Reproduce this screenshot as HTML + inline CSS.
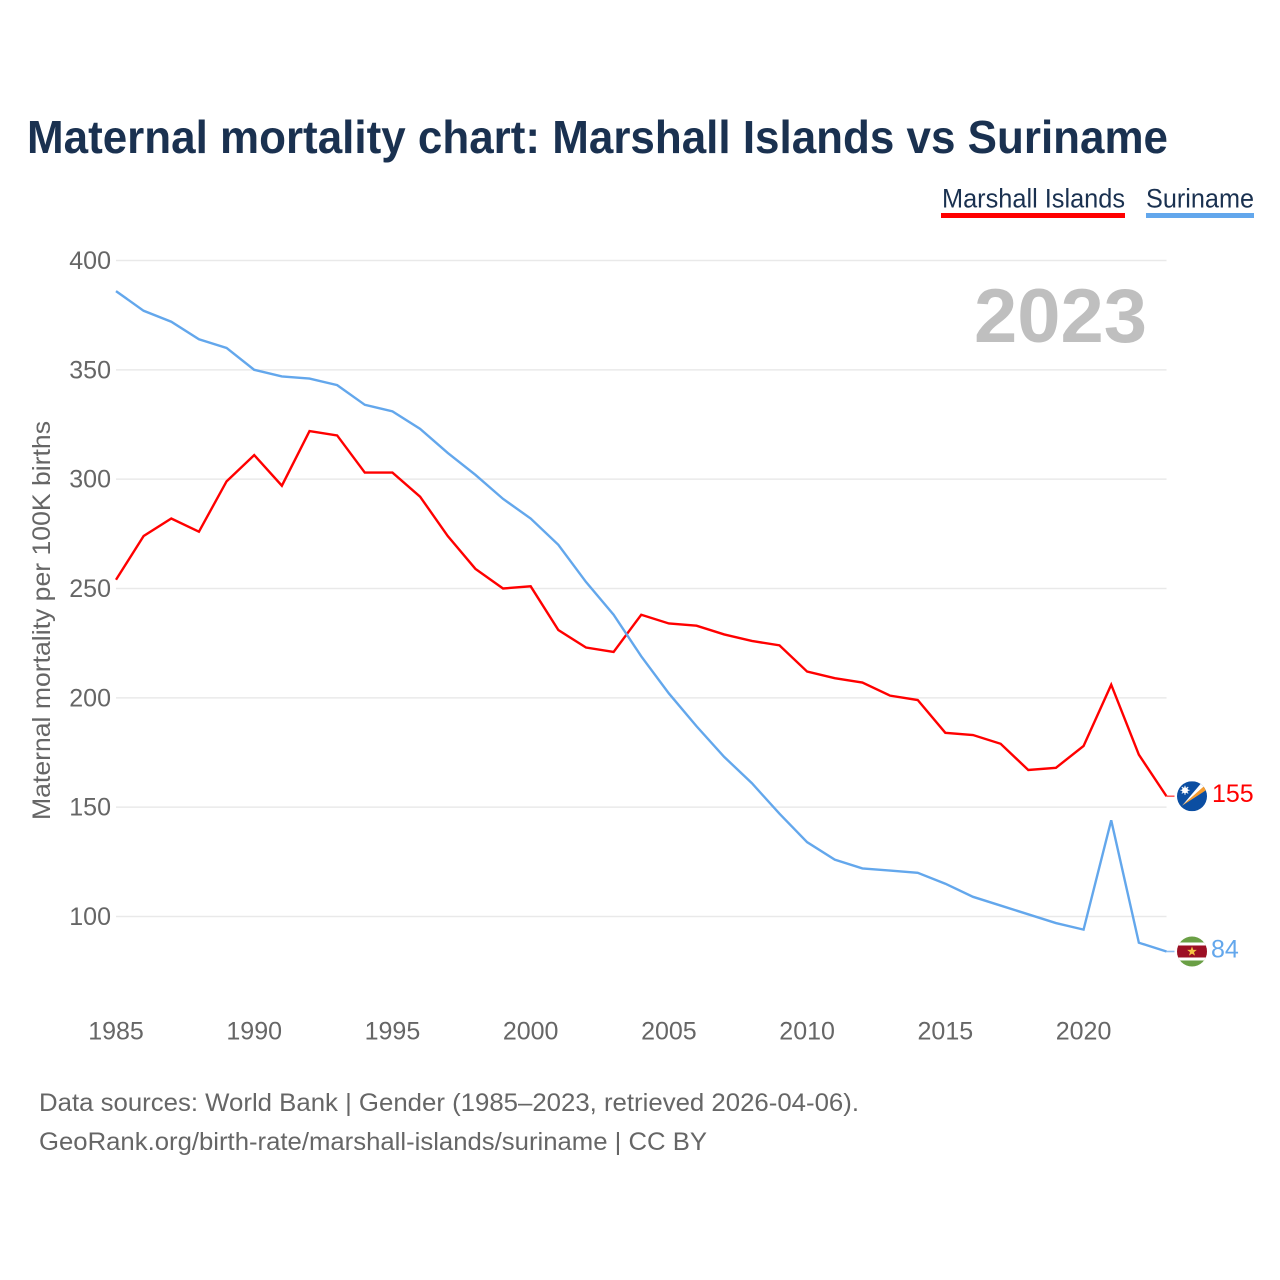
<!DOCTYPE html>
<html lang="en">
<head>
<meta charset="utf-8">
<title>Maternal mortality chart: Marshall Islands vs Suriname</title>
<style>
html,body{margin:0;padding:0;background:#fff;}
svg{display:block;font-family:"Liberation Sans",sans-serif;}
</style>
</head>
<body>
<svg id="chart" width="1280" height="1280" viewBox="0 0 1280 1280" xmlns="http://www.w3.org/2000/svg">
  <defs>
    <clipPath id="flag-clip"><circle cx="0" cy="0" r="15"></circle></clipPath>
  </defs>
  <rect x="0" y="0" width="1280" height="1280" fill="#ffffff"></rect>
  <text x="27" y="153" font-size="46" font-weight="700" fill="#1a3150" textLength="1141" lengthAdjust="spacingAndGlyphs">Maternal mortality chart: Marshall Islands vs Suriname</text>

  <g>
    <g>
      <text x="942" y="207.5" font-size="27" fill="#1a3150" textLength="183" lengthAdjust="spacingAndGlyphs">Marshall Islands</text>
      <rect x="941" y="213" width="184" height="5" fill="#ff0000"></rect>
    </g>
    <g>
      <text x="1146" y="207.5" font-size="27" fill="#1a3150" textLength="108" lengthAdjust="spacingAndGlyphs">Suriname</text>
      <rect x="1146" y="213" width="108" height="5" fill="#63a7ec"></rect>
    </g>
  </g>

  <g id="grid"></g>
  <g id="y-ticks"></g>
  <g id="x-ticks"></g>

  <text x="974" y="342" font-size="76" font-weight="700" fill="#bfbfbf" textLength="173" lengthAdjust="spacingAndGlyphs">2023</text>

  <text transform="translate(50,820) rotate(-90)" x="0" y="0" font-size="25" fill="#666666" textLength="399" lengthAdjust="spacingAndGlyphs">Maternal mortality per 100K births</text>

  <g id="series"></g>

  <g id="flag-marshall">
    <g clip-path="url(#flag-clip)">
      <rect x="-15" y="-15" width="30" height="30" fill="#0b4ea2"></rect>
      <polygon points="-10,9.5 10,-14 13.5,-11" fill="#ffffff"></polygon>
      <polygon points="-10,9.5 12,-10 14,-6" fill="#f59b2d"></polygon>
      <circle cx="-7" cy="-6" r="3" fill="#ffffff"></circle>
      <g stroke="#ffffff" stroke-width="1">
        <line x1="-7" y1="-10.5" x2="-7" y2="-1.5"></line>
        <line x1="-11.5" y1="-6" x2="-2.5" y2="-6"></line>
        <line x1="-10.2" y1="-9.2" x2="-3.8" y2="-2.8"></line>
        <line x1="-3.8" y1="-9.2" x2="-10.2" y2="-2.8"></line>
      </g>
    </g>
  </g>
  <g id="flag-suriname">
    <g clip-path="url(#flag-clip)">
      <rect x="-15" y="-15" width="30" height="30" fill="#6a9f45"></rect>
      <rect x="-15" y="-9" width="30" height="18" fill="#ffffff"></rect>
      <rect x="-15" y="-6" width="30" height="12" fill="#9c0f24"></rect>
      <polygon points="0,-5 1.3,-1.6 4.8,-1.6 2,0.6 3,4.2 0,2.1 -3,4.2 -2,0.6 -4.8,-1.6 -1.3,-1.6" fill="#f6c445"></polygon>
    </g>
  </g>
  <text id="label-marshall" x="1212" font-size="25" fill="#ff0000"></text>
  <text id="label-suriname" x="1211" font-size="25" fill="#63a7ec"></text>

  <g>
    <text x="39" y="1111" font-size="25" fill="#666666" textLength="820" lengthAdjust="spacingAndGlyphs">Data sources: World Bank | Gender (1985–2023, retrieved 2026-04-06).</text>
    <text x="39" y="1150" font-size="25" fill="#666666" textLength="668" lengthAdjust="spacingAndGlyphs">GeoRank.org/birth-rate/marshall-islands/suriname | CC BY</text>
  </g>
</svg>
<script>
const years = [1985,1986,1987,1988,1989,1990,1991,1992,1993,1994,1995,1996,1997,1998,1999,2000,2001,2002,2003,2004,2005,2006,2007,2008,2009,2010,2011,2012,2013,2014,2015,2016,2017,2018,2019,2020,2021,2022,2023];
const marshallIslands = [254,274,282,276,299,311,297,322,320,303,303,292,274,259,250,251,231,223,221,238,234,233,229,226,224,212,209,207,201,199,184,183,179,167,168,178,206,174,155];
const suriname = [386,377,372,364,360,350,347,346,343,334,331,323,312,302,291,282,270,253,238,219,202,187,173,161,147,134,126,122,121,120,115,109,105,101,97,94,144,88,84];
const yTicks = [100,150,200,250,300,350,400];
const xTicks = [1985,1990,1995,2000,2005,2010,2015,2020];

const NS = 'http://www.w3.org/2000/svg';
const xScale = function (year) { return 116 + (year - 1985) * (1166.5 - 116) / 38; };
const yScale = function (value) { return 916.5 - (value - 100) * (916.5 - 260.5) / 300; };

const grid = document.getElementById('grid');
const yGroup = document.getElementById('y-ticks');
yTicks.forEach(function (tick) {
  const line = document.createElementNS(NS, 'line');
  
  
  line.setAttribute('x1', xScale(1985));
  line.setAttribute('x2', xScale(2023));
  line.setAttribute('y1', yScale(tick));
  line.setAttribute('y2', yScale(tick));
  line.setAttribute('stroke', '#e9e9e9');
  line.setAttribute('stroke-width', '1.5');
  grid.appendChild(line);

  const label = document.createElementNS(NS, 'text');
  
  
  label.setAttribute('x', 111);
  label.setAttribute('y', yScale(tick) + 8.5);
  label.setAttribute('text-anchor', 'end');
  label.setAttribute('font-size', '25');
  label.setAttribute('fill', '#666666');
  label.textContent = tick;
  yGroup.appendChild(label);
});

const xGroup = document.getElementById('x-ticks');
xTicks.forEach(function (tick) {
  const label = document.createElementNS(NS, 'text');
  
  
  label.setAttribute('x', xScale(tick));
  label.setAttribute('y', 1039.5);
  label.setAttribute('text-anchor', 'middle');
  label.setAttribute('font-size', '25');
  label.setAttribute('fill', '#666666');
  label.textContent = tick;
  xGroup.appendChild(label);
});

function buildPoints(values) {
  const pts = values.map(function (v, i) { return xScale(years[i]) + ',' + yScale(v); });
  return pts.join(' ');
}

function buildStub(values) {
  const lastX = xScale(years[years.length - 1]);
  const lastY = yScale(values[values.length - 1]);
  return 'M' + lastX + ' ' + lastY + 'H' + (lastX + 8);
}

const seriesGroup = document.getElementById('series');

const marshallLine = document.createElementNS(NS, 'polyline');


marshallLine.setAttribute('points', buildPoints(marshallIslands));
marshallLine.setAttribute('fill', 'none');
marshallLine.setAttribute('stroke', '#ff0000');
marshallLine.setAttribute('stroke-width', '2.4');
seriesGroup.appendChild(marshallLine);

const marshallStub = document.createElementNS(NS, 'path');


marshallStub.setAttribute('d', buildStub(marshallIslands));
marshallStub.setAttribute('fill', 'none');
marshallStub.setAttribute('stroke', '#ff5a5a');
marshallStub.setAttribute('stroke-width', '1.6');
seriesGroup.appendChild(marshallStub);

const surinameLine = document.createElementNS(NS, 'polyline');


surinameLine.setAttribute('points', buildPoints(suriname));
surinameLine.setAttribute('fill', 'none');
surinameLine.setAttribute('stroke', '#63a7ec');
surinameLine.setAttribute('stroke-width', '2.4');
seriesGroup.appendChild(surinameLine);

const surinameStub = document.createElementNS(NS, 'path');


surinameStub.setAttribute('d', buildStub(suriname));
surinameStub.setAttribute('fill', 'none');
surinameStub.setAttribute('stroke', '#8cbdf0');
surinameStub.setAttribute('stroke-width', '1.6');
seriesGroup.appendChild(surinameStub);

const lastMarshall = marshallIslands[marshallIslands.length - 1];
const lastSuriname = suriname[suriname.length - 1];
document.getElementById('flag-marshall').setAttribute('transform', 'translate(1192,' + yScale(lastMarshall) + ')');
document.getElementById('flag-suriname').setAttribute('transform', 'translate(1192,' + yScale(lastSuriname) + ')');
const labelMarshall = document.getElementById('label-marshall');
labelMarshall.setAttribute('y', yScale(lastMarshall) + 6);
labelMarshall.textContent = lastMarshall;
const labelSuriname = document.getElementById('label-suriname');
labelSuriname.setAttribute('y', yScale(lastSuriname) + 6);
labelSuriname.textContent = lastSuriname;
</script>
</body>
</html>
